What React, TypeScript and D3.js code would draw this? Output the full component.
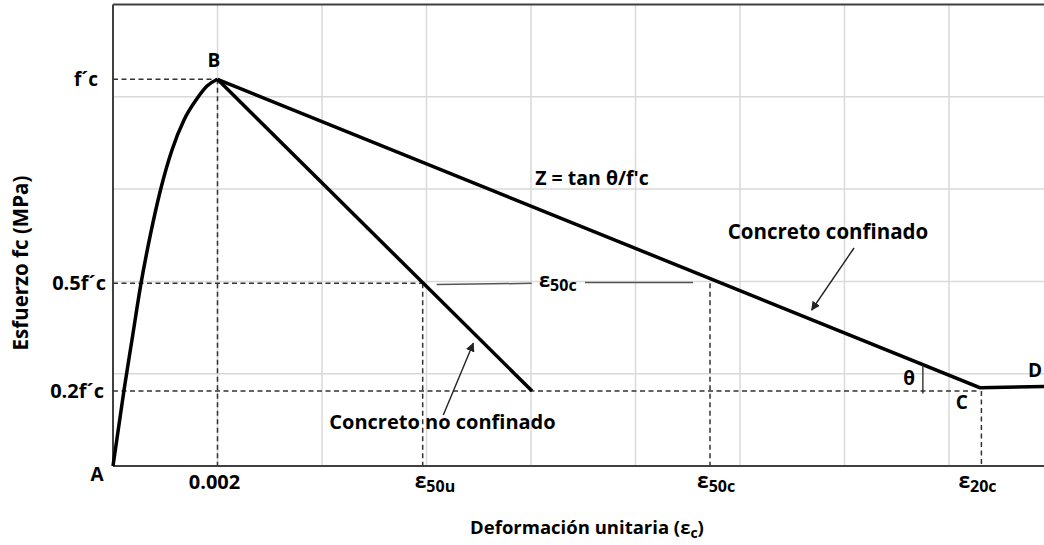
import React from "react";
import * as d3 from "d3";

// ---- data ----
const ascendingStrain = [0, 0.000211, 0.000373, 0.000536, 0.000708, 0.000909, 0.001129, 0.001359, 0.001589, 0.001799, 0.002];
const ascendingStress = [0, 0.823, 1.401, 1.979, 2.484, 2.99, 3.424, 3.749, 3.965, 4.117, 4.19];
const unconfinedStrain = [0.002, 0.00802];
const unconfinedStress = [4.19, 0.8126];
const confinedStrain = [0.002, 0.01659, 0.018];
const confinedStress = [4.19, 0.848, 0.862];
const fcLevels = [4.19, 1.979, 0.8126];
const fcLabels = ["f´c", "0.5f´c", "0.2f´c"];
const strainMarks = [0.002, 0.005927, 0.011426, 0.01662];
const strainMarkLevels = [4.19, 1.979, 1.979, 0.8126];
const strainMain = ["0.002", "ε", "ε", "ε"];
const strainSub = ["", "50u", "50c", "20c"];
const gridStrain = [0.002, 0.004, 0.006, 0.008, 0.01, 0.012, 0.014, 0.016];
const gridStress = [1, 2, 3, 4];

export default function App() {
  const W = 1044, H = 545;
  const x = d3.scaleLinear().domain([0, 0.018]).range([113, 113 + 104.5 * 9]);
  const y = d3.scaleLinear().domain([0, 5]).range([466, 4.5]);
  const asc = ascendingStrain.map((e, i) => [e, ascendingStress[i]] as [number, number]);
  const unc = unconfinedStrain.map((e, i) => [e, unconfinedStress[i]] as [number, number]);
  const con = confinedStrain.map((e, i) => [e, confinedStress[i]] as [number, number]);
  const lineCurve = d3.line<[number, number]>().x(d => x(d[0])).y(d => y(d[1])).curve(d3.curveMonotoneX);
  const lineStraight = d3.line<[number, number]>().x(d => x(d[0])).y(d => y(d[1]));
  const font = "'Open Sans', Lato, sans-serif";
  const dash = "5,3.5";
  const dashColor = "#333";
  const tickDx = [-3, 0, -6, -2];
  const levelDx = [-15, -7, -9];
  const x0 = x(0), yb = y(0);
  const cx = x(confinedStrain[1]);
  const thetaStrain = 0.0155;
  const t = (thetaStrain - confinedStrain[0]) / (confinedStrain[1] - confinedStrain[0]);
  const thetaStress = confinedStress[0] + t * (confinedStress[1] - confinedStress[0]);

  return (
    <svg width={W} height={H} style={{ position: "absolute", left: 0, top: 0, background: "#fff" }} fontFamily={font}>
      <defs>
        <marker id="arr" viewBox="0 0 10 10" refX="9" refY="5" markerWidth="9" markerHeight="9" orient="auto" markerUnits="userSpaceOnUse">
          <path d="M0,0 L10,5 L0,10 z" fill="#222" />
        </marker>
      </defs>
      <rect x={0} y={0} width={W} height={H} fill="#fff" />
      {gridStrain.map((g, i) => (
        <line key={"gx" + i} x1={x(g)} x2={x(g)} y1={y(5)} y2={yb} stroke="#d9d9d9" strokeWidth={1.5} />
      ))}
      {gridStress.map((g, i) => (
        <line key={"gy" + i} x1={x0} x2={W} y1={y(g)} y2={y(g)} stroke="#d9d9d9" strokeWidth={1.5} />
      ))}
      <line x1={x0} x2={W} y1={y(5)} y2={y(5)} stroke="#404040" strokeWidth={2} />
      <line x1={x0} x2={W} y1={yb} y2={yb} stroke="#404040" strokeWidth={2} />
      <line x1={x0} x2={x0} y1={y(5)} y2={yb} stroke="#404040" strokeWidth={2} />

      <line x1={x0} x2={x(0.002)} y1={y(fcLevels[0])} y2={y(fcLevels[0])} stroke={dashColor} strokeWidth={1.5} strokeDasharray={dash} />
      <line x1={x0} x2={x(strainMarks[1])} y1={y(fcLevels[1])} y2={y(fcLevels[1])} stroke={dashColor} strokeWidth={1.5} strokeDasharray={dash} />
      <line x1={x0} x2={cx} y1={y(fcLevels[2])} y2={y(fcLevels[2])} stroke={dashColor} strokeWidth={1.5} strokeDasharray={dash} />
      {strainMarks.map((m, i) => (
        <line key={"vm" + i} x1={x(m)} x2={x(m)} y1={y(strainMarkLevels[i])} y2={yb} stroke={dashColor} strokeWidth={1.5} strokeDasharray={dash} />
      ))}

      <line x1={x(strainMarks[1]) + 14} x2={x(strainMarks[1]) + 109} y1={y(fcLevels[1]) + 1.2} y2={y(fcLevels[1])} stroke="#555" strokeWidth={1.5} />
      <line x1={x(strainMarks[2]) - 125} x2={x(strainMarks[2]) - 17} y1={y(fcLevels[1]) - 0.8} y2={y(fcLevels[1]) - 0.8} stroke="#555" strokeWidth={1.5} />
      <text x={539} y={287} fontSize={20} fontWeight={700} fill="#000">
        <tspan>ε</tspan>
        <tspan dy={4} fontSize={16}>50c</tspan>
      </text>

      <path d={lineCurve(asc) || ""} fill="none" stroke="#000" strokeWidth={3.5} />
      <path d={lineStraight(unc) || ""} fill="none" stroke="#000" strokeWidth={3.5} />
      <path d={lineStraight(con) || ""} fill="none" stroke="#000" strokeWidth={3.5} strokeLinejoin="miter" />

      <line x1={x(thetaStrain)} x2={x(thetaStrain)} y1={y(thetaStress)} y2={y(fcLevels[2]) + 2.5} stroke="#222" strokeWidth={1.3} />
      <text x={909} y={385} fontSize={19} fontWeight={700} textAnchor="middle" fill="#000">θ</text>

      <text x={214} y={67} fontSize={19} fontWeight={700} textAnchor="middle" fill="#000">B</text>
      <text x={97} y={481} fontSize={19} fontWeight={700} textAnchor="middle" fill="#000">A</text>
      <text x={cx - 18} y={409} fontSize={19} fontWeight={700} textAnchor="middle" fill="#000">C</text>
      <text x={1035} y={377} fontSize={19} fontWeight={700} textAnchor="middle" fill="#000">D</text>

      {fcLabels.map((l, i) => (
        <text key={"fl" + i} x={x0 + levelDx[i]} y={y(fcLevels[i]) + 7} fontSize={i === 0 ? 19 : 20} fontWeight={700} textAnchor="end" fill="#000">{l}</text>
      ))}

      {strainMarks.map((m, i) => (
        strainSub[i] === "" ? (
          <text key={"xt" + i} x={x(m) + tickDx[i]} y={489} fontSize={20} fontWeight={700} textAnchor="middle" fill="#000">{strainMain[i]}</text>
        ) : (
          <text key={"xt" + i} x={x(m) + tickDx[i]} y={488} fontSize={21} fontWeight={700} textAnchor="start" fill="#000" transform={`translate(${i === 1 ? -8 : i === 2 ? -7 : -21},0)`}>
            <tspan>{strainMain[i]}</tspan>
            <tspan dy={4} fontSize={16}>{strainSub[i]}</tspan>
          </text>
        )
      ))}

      <text x={592} y={185} fontSize={19.5} fontWeight={700} textAnchor="middle" fill="#000">Z = tan θ/f'c</text>
      <text x={828} y={239} fontSize={20.5} fontWeight={700} textAnchor="middle" fill="#000">Concreto confinado</text>
      <line x1={854} y1={248} x2={811.7} y2={310} stroke="#222" strokeWidth={1.4} markerEnd="url(#arr)" />
      <text x={442.5} y={429} fontSize={20} fontWeight={700} textAnchor="middle" fill="#000">Concreto no confinado</text>
      <line x1={443.3} y1={415} x2={473.3} y2={343.3} stroke="#222" strokeWidth={1.4} markerEnd="url(#arr)" />

      <text x={587} y={534} fontSize={18.5} fontWeight={700} textAnchor="middle" fill="#000">
        <tspan>Deformación unitaria (ε</tspan>
        <tspan dy={4} fontSize={14}>c</tspan>
        <tspan dy={-4}>)</tspan>
      </text>
      <text transform="translate(28,263) rotate(-90)" fontSize={20.5} fontWeight={700} textAnchor="middle" fill="#000">Esfuerzo fc (MPa)</text>
    </svg>
  );
}
